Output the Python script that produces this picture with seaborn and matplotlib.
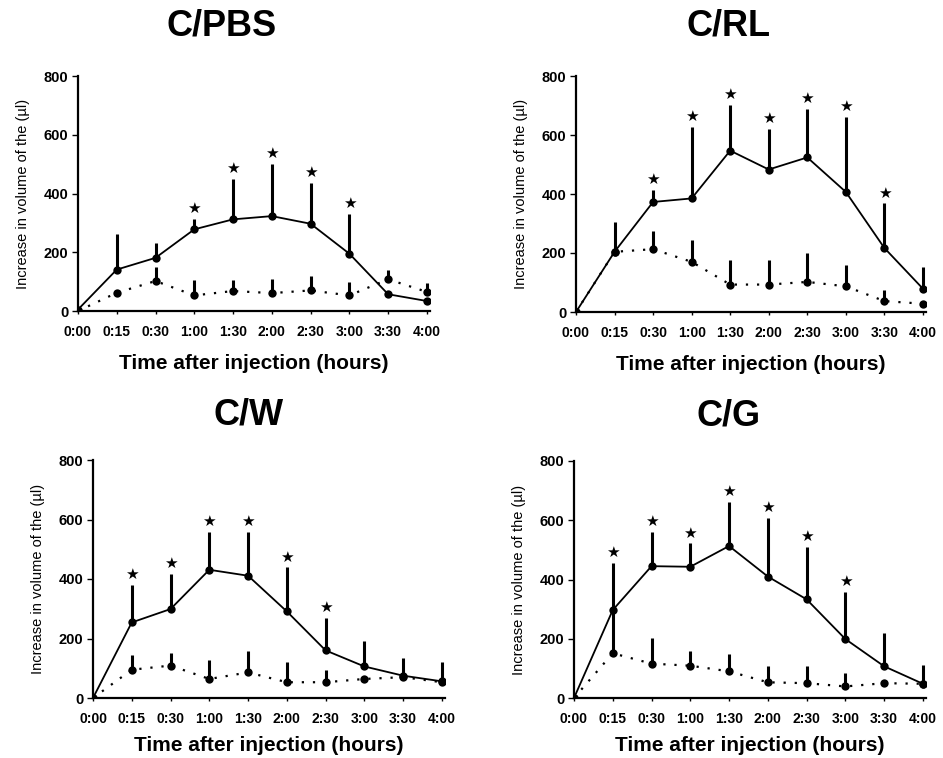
import matplotlib
matplotlib.use("Agg")
import matplotlib.pyplot as plt
import seaborn as sns
import numpy as np
import pandas as pd

sns.set_theme(style="white")
plt.rcParams['font.family'] = ['Liberation Sans', 'DejaVu Sans']
plt.rcParams['text.color'] = 'black'
plt.rcParams['axes.labelcolor'] = 'black'
plt.rcParams['xtick.color'] = 'black'
plt.rcParams['ytick.color'] = 'black'

times = ["0:00", "0:15", "0:30", "1:00", "1:30", "2:00", "2:30", "3:00", "3:30", "4:00"]
titles = ["C/PBS", "C/RL", "C/W", "C/G"]

# solid (treated) series means and upper error-bar tops
pbs_solid = [5, 141, 181, 278, 312, 323, 297, 195, 57, 34]
pbs_solid_top = [5, 263, 231, 314, 450, 501, 436, 331, 57, 34]
pbs_dot = [0, 62, 102, 53, 68, 61, 70, 53, 108, 65]
pbs_dot_top = [0, 62, 150, 104, 104, 110, 118, 99, 138, 95]
pbs_star = [0, 0, 0, 1, 1, 1, 1, 1, 0, 0]

rl_solid = [0, 204, 373, 385, 547, 483, 524, 407, 217, 79]
rl_solid_top = [0, 306, 413, 628, 701, 622, 687, 660, 368, 153]
rl_dot = [0, 204, 213, 170, 93, 93, 102, 87, 37, 28]
rl_dot_top = [0, 204, 275, 243, 175, 175, 200, 158, 76, 28]
rl_star = [0, 0, 1, 1, 1, 1, 1, 1, 1, 0]

w_solid = [0, 254, 299, 431, 411, 291, 160, 106, 75, 56]
w_solid_top = [0, 380, 418, 559, 559, 439, 269, 190, 134, 120]
w_dot = [0, 95, 109, 64, 86, 53, 53, 64, 70, 53]
w_dot_top = [0, 145, 151, 129, 157, 120, 95, 64, 70, 53]
w_star = [0, 1, 1, 1, 1, 1, 1, 0, 0, 0]

g_solid = [0, 297, 445, 443, 513, 410, 333, 199, 107, 48]
g_solid_top = [0, 457, 561, 522, 662, 609, 511, 359, 219, 112]
g_dot = [0, 151, 116, 109, 90, 53, 50, 39, 50, 48]
g_dot_top = [0, 290, 202, 160, 149, 107, 109, 84, 50, 48]
g_star = [0, 1, 1, 1, 1, 1, 1, 1, 0, 0]

panels = [
    (pbs_solid, pbs_solid_top, pbs_dot, pbs_dot_top, pbs_star),
    (rl_solid, rl_solid_top, rl_dot, rl_dot_top, rl_star),
    (w_solid, w_solid_top, w_dot, w_dot_top, w_star),
    (g_solid, g_solid_top, g_dot, g_dot_top, g_star),
]

fig = plt.figure(figsize=(9.43, 7.58), dpi=100)
W, H = 943, 758
boxes = [(78, 76, 430, 311), (576, 76, 926, 312), (93, 460, 445, 698), (574, 461, 926, 698)]
title_pos = [(222, 26), (729, 26), (249, 415), (729, 416)]
xlabel_pads = [11, 11, 7, 7]

for (l, t, r, b), title, tp, lp, (solid, stop, dot, dtop, star) in zip(
        boxes, titles, title_pos, xlabel_pads, panels):
    ax = fig.add_axes([l / W, 1 - b / H, (r - l) / W, (b - t) / H])
    x = np.arange(len(times))
    df = pd.DataFrame({"x": np.concatenate([x, x]),
                       "y": np.concatenate([solid, dot]),
                       "s": ["solid"] * len(x) + ["dot"] * len(x)})
    sns.lineplot(data=df[df.s == "dot"], x="x", y="y", ax=ax, color="black",
                 lw=1.6, linestyle=(0, (1, 4)), marker="o", markersize=6,
                 markeredgewidth=0, legend=False)
    sns.lineplot(data=df[df.s == "solid"], x="x", y="y", ax=ax, color="black",
                 lw=1.3, marker="o", markersize=6, markeredgewidth=0, legend=False)
    ax.vlines(x, dot, dtop, color="black", lw=2.2)
    ax.vlines(x, solid, stop, color="black", lw=2.2)
    for xi, yt, s in zip(x, stop, star):
        if s:
            ax.annotate("★", (xi, yt), xytext=(0, 7.5), textcoords="offset points",
                        ha="center", va="center", fontsize=11, color="black",
                        family=["DejaVu Sans"])
    ax.set_xlim(0, 9.08)
    ax.set_ylim(0, 800)
    ax.set_yticks([0, 200, 400, 600, 800])
    ax.set_xticks(x)
    ax.set_xticklabels(times, fontsize=10, fontweight="bold")
    for lab in ax.get_yticklabels():
        lab.set_fontsize(10.5)
        lab.set_fontweight("bold")
    ax.tick_params(axis="y", direction="out", length=4, width=1, color="black",
                   pad=3, left=True)
    ax.tick_params(axis="x", direction="out", length=2, width=1, color="black",
                   pad=8, bottom=True)
    for sp in ["top", "right"]:
        ax.spines[sp].set_visible(False)
    for sp in ["left", "bottom"]:
        ax.spines[sp].set_color("black")
        ax.spines[sp].set_linewidth(1.6)
    ax.set_xlabel("Time after injection (hours)", fontsize=15, fontweight="bold", labelpad=lp)
    ax.set_ylabel("Increase in volume of the (µl)", fontsize=10.5, labelpad=10)
    fig.text(tp[0] / W, 1 - tp[1] / H, title, fontsize=26, fontweight="bold",
             ha="center", va="center", color="black")

fig.savefig("out.png", dpi=100, facecolor="white")
